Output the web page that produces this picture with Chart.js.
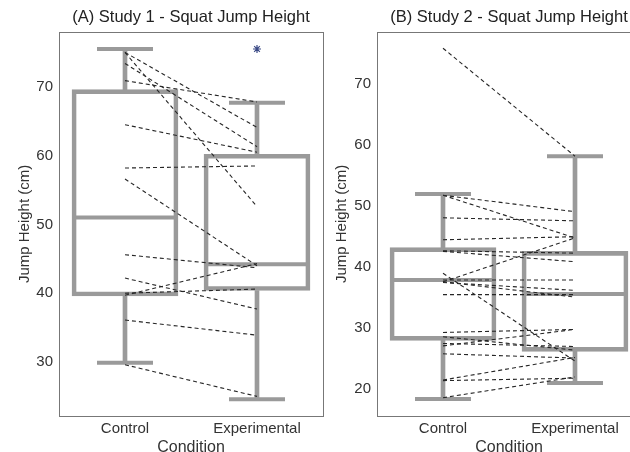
<!DOCTYPE html>
<html>
<head>
<meta charset="utf-8">
<script src="https://cdn.jsdelivr.net/npm/chart.js@4/dist/chart.umd.min.js"></script>
<style>
    html, body { margin: 0; padding: 0; background: #fff; }
    body { width: 630px; height: 452px; overflow: hidden; position: relative; }
    .panel { position: absolute; top: 0; width: 330px; height: 462px; }
    #panelA { left: 0; }
    #panelB { left: 318px; }
</style>
</head>
<body>
<div class="panel" id="panelA"><canvas id="chartA"></canvas></div>
<div class="panel" id="panelB"><canvas id="chartB"></canvas></div>

<script>
// ==========================
// DATA
// ==========================
const categories = ["Control", "Experimental"];

// Study 1 (A)
const yTicksA   = [30, 40, 50, 60, 70];
const minA      = [29.9, 24.6];
const q1A       = [39.6, 40.4];
const medianA   = [51.0, 44.2];
const q3A       = [69.6, 60.2];
const maxA      = [75.5, 67.7];
const outlierA  = [null, 75.5];
const controlA      = [75.0, 75.0, 73.4, 70.9, 64.5, 58.2, 56.6, 45.6, 42.2, 39.7, 40.0, 36.1, 29.6];
const experimentalA = [64.1, 52.6, 61.3, 67.8, 60.5, 58.5, 44.0, 43.7, 37.7, 44.3, 40.6, 33.9, 25.0];

// Study 2 (B)
const yTicksB   = [20, 30, 40, 50, 60, 70];
const minB      = [18.4, 21.0];
const q1B       = [28.0, 26.2];
const medianB   = [37.9, 35.6];
const q3B       = [43.2, 42.6];
const maxB      = [52.0, 58.2];
const outlierB  = [null, null];
const controlB      = [75.9, 51.8, 51.8, 48.1, 44.5, 42.7, 42.6, 39.0, 37.6, 37.9, 37.5, 37.6, 35.5, 29.3, 28.6, 27.5, 27.1, 25.8, 21.5, 21.4, 18.6];
const experimentalB = [58.2, 49.1, 44.8, 47.6, 45.0, 42.3, 40.9, 24.6, 44.8, 37.9, 36.2, 35.1, 35.5, 29.8, 26.4, 27.0, 29.8, 25.1, 25.2, 21.8, 22.0];

// ==========================
// STYLE
// ==========================
const FONT   = "'Liberation Sans', Arial, sans-serif";
const BOX    = "#9a9a9a";
const PAIR   = "#262626";

// frame round the plot area
const framePlugin = {
    id: "frame",
    afterDatasetsDraw(chart) {
        const { ctx, chartArea: a } = chart;
        ctx.save();
        ctx.strokeStyle = "#777";
        ctx.lineWidth = 1;
        ctx.strokeRect(Math.round(a.left) + 0.5, Math.round(a.top) + 0.5,
                       Math.round(a.right - a.left), Math.round(a.bottom - a.top));
        ctx.restore();
    }
};

function capDataset(values) {
    return {
        type: "line", data: values, showLine: false, order: 2,
        pointStyle: "line", pointRadius: 28, pointBorderWidth: 4,
        pointBorderColor: BOX, pointBackgroundColor: BOX
    };
}

function buildChart(canvasId, cfg) {
    const datasets = [];

    // paired participants (dashed)
    cfg.control.forEach((c, i) => {
        datasets.push({
            type: "line", data: [c, cfg.experimental[i]], order: 0,
            borderColor: PAIR, borderWidth: 1.1, borderDash: [4, 3],
            pointRadius: 0, fill: false
        });
    });

    // box (q1 - q3)
    datasets.push({
        type: "bar", data: categories.map((_, i) => [cfg.q1[i], cfg.q3[i]]), order: 3,
        backgroundColor: "rgba(255,255,255,0)", borderColor: BOX, borderWidth: 4,
        borderSkipped: false, barThickness: 106, grouped: false
    });

    // whiskers
    datasets.push({
        type: "bar", data: categories.map((_, i) => [cfg.q3[i], cfg.max[i]]), order: 2,
        backgroundColor: BOX, borderWidth: 0, barThickness: 4, grouped: false
    });
    datasets.push({
        type: "bar", data: categories.map((_, i) => [cfg.min[i], cfg.q1[i]]), order: 2,
        backgroundColor: BOX, borderWidth: 0, barThickness: 4, grouped: false
    });

    // caps + median
    datasets.push(capDataset(cfg.max));
    datasets.push(capDataset(cfg.min));
    datasets.push({
        type: "line", data: cfg.median, showLine: false, order: 2,
        pointStyle: "line", pointRadius: 53, pointBorderWidth: 4,
        pointBorderColor: BOX, pointBackgroundColor: BOX
    });

    // outlier
    datasets.push({
        type: "line", data: cfg.outlier, showLine: false, order: 0,
        pointStyle: "star", pointRadius: 4, pointBorderWidth: 1.2,
        pointBorderColor: "#3b4a86"
    });

    return new Chart(document.getElementById(canvasId), {
        type: "bar",
        data: { labels: categories, datasets: datasets },
        plugins: [framePlugin],
        options: {
            responsive: true,
            maintainAspectRatio: false,
            animation: false,
            events: [],
            // big "line" points (caps/median) would otherwise add padding
            layout: { autoPadding: false, padding: { left: 0, right: 7, top: 0, bottom: 0 } },
            plugins: {
                legend: { display: false },
                tooltip: { enabled: false },
                title: {
                    display: true, text: cfg.title, fullSize: false,
                    color: "#222", font: { family: FONT, size: 16.5, weight: "normal" },
                    padding: { top: 8, bottom: 4 }
                }
            },
            scales: {
                x: {
                    grid: { display: false, drawTicks: false },
                    border: { display: false },
                    ticks: { color: "#333", font: { family: FONT, size: 15 }, padding: 4 },
                    title: {
                        display: true, text: "Condition", color: "#333",
                        font: { family: FONT, size: 16 }, padding: { top: 0, bottom: 5 }
                    },
                    afterFit: s => { s.height = 46; }
                },
                y: {
                    min: cfg.yMin, max: cfg.yMax,
                    grid: { display: false, drawTicks: false },
                    border: { display: false },
                    ticks: { color: "#333", font: { family: FONT, size: 15 }, padding: 6 },
                    afterBuildTicks: s => { s.ticks = cfg.ticks.map(v => ({ value: v })); },
                    title: {
                        display: true, text: "Jump Height (cm)", color: "#333",
                        font: { family: FONT, size: 15 }, padding: { top: cfg.yTitlePad, bottom: 0 }
                    },
                    afterFit: s => { s.width = 59; }
                }
            }
        }
    });
}

document.addEventListener("DOMContentLoaded", function () {
    buildChart("chartA", {
        title: "(A) Study 1 - Squat Jump Height",
        ticks: yTicksA, yMin: 22.15, yMax: 78.0, yTitlePad: 16,
        min: minA, q1: q1A, median: medianA, q3: q3A, max: maxA, outlier: outlierA,
        control: controlA, experimental: experimentalA
    });

    buildChart("chartB", {
        title: "(B) Study 2 - Squat Jump Height",
        ticks: yTicksB, yMin: 15.6, yMax: 78.6, yTitlePad: 15,
        min: minB, q1: q1B, median: medianB, q3: q3B, max: maxB, outlier: outlierB,
        control: controlB, experimental: experimentalB
    });
});
</script>
</body>
</html>
